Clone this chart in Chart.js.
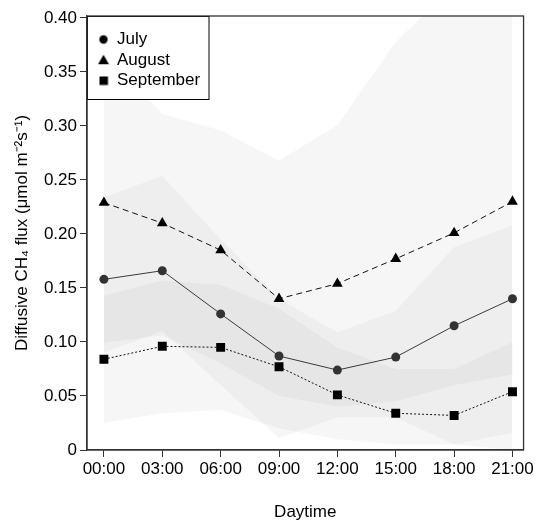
<!DOCTYPE html>
<html><head><meta charset="utf-8">
<script src="https://cdn.jsdelivr.net/npm/chart.js@4.4.1/dist/chart.umd.min.js"></script>
<style>html,body{margin:0;padding:0;background:#fff}#wrap{width:536px;height:520px}</style>
</head><body><div id="wrap"><canvas id="c" width="536" height="520"></canvas></div>
<script>
const hours = ['00:00','03:00','06:00','09:00','12:00','15:00','18:00','21:00'];
const yTickValues = [0,0.05,0.10,0.15,0.20,0.25,0.30,0.35,0.40];

const julyMean = [0.158,0.166,0.126,0.087,0.074,0.086,0.115,0.140];
const augustMean = [0.229,0.210,0.185,0.140,0.154,0.177,0.201,0.230];
const septemberMean = [0.084,0.096,0.095,0.077,0.051,0.034,0.032,0.054];

const julyUpper = [0.234,0.254,0.195,0.140,0.109,0.129,0.188,0.208];
const julyLower = [0.099,0.106,0.080,0.050,0.040,0.045,0.060,0.070];
const augustUpper = [0.370,0.311,0.296,0.268,0.301,0.378,0.430,0.460];
const augustLower = [0.090,0.110,0.060,0.011,0.030,0.030,0.005,0.000];
const septemberUpper = [0.143,0.157,0.153,0.131,0.095,0.075,0.075,0.100];
const septemberLower = [0.025,0.034,0.037,0.020,0.010,0.005,0.005,0.016];

const pts = arr => arr.map((v,i)=>({x:i,y:v}));
const BAND = 'rgba(0,0,0,0.035)';
const FONT = "'Liberation Sans', Arial, sans-serif";

function bandPair(lower, upper, lowerIndex){
  return [
    {type:'line', data:pts(lower), borderWidth:0, pointRadius:0, fill:false, order:2, isBand:true},
    {type:'line', data:pts(upper), borderWidth:0, pointRadius:0, fill:lowerIndex, backgroundColor:BAND, order:2, isBand:true}
  ];
}

function legendIcon(style){
  const c = document.createElement('canvas');
  c.width = 12; c.height = 12;
  const g = c.getContext('2d');
  g.fillStyle = '#000';
  g.beginPath();
  if (style === 'circle') { g.arc(6, 6, 4.2, 0, Math.PI*2); }
  else if (style === 'triangle') { g.moveTo(6, 0.8); g.lineTo(11.4, 10.2); g.lineTo(0.6, 10.2); g.closePath(); }
  else { g.rect(2, 2, 8.5, 8.5); }
  g.fill();
  return c;
}

const datasets = [
  ...bandPair(augustLower, augustUpper, 0),
  ...bandPair(julyLower, julyUpper, 2),
  ...bandPair(septemberLower, septemberUpper, 4),
  {label:'July', data:pts(julyMean), borderColor:'#3a3a3a', borderWidth:1, backgroundColor:'#333',
   pointStyle:'circle', pointRadius:4.5, pointBorderWidth:0, pointBackgroundColor:'#333', fill:false, order:0},
  {label:'August', data:pts(augustMean), borderColor:'#111', borderWidth:1, borderDash:[6,4], backgroundColor:'#000',
   pointStyle:'triangle', pointRadius:6.2, pointBorderWidth:0, pointBackgroundColor:'#000', fill:false, order:0},
  {label:'September', data:pts(septemberMean), borderColor:'#111', borderWidth:1, borderDash:[2,2], backgroundColor:'#000',
   pointStyle:'rect', pointRadius:6.3, pointBorderWidth:0, pointBackgroundColor:'#000', fill:false, order:0}
];

const frame = {
  id:'frame',
  beforeUpdate(chart){
    const L = chart.legend;
    if (L) {
      L._layers = function(){
        return [{z:10, draw(ca){ L.left = ca.left + 8; L.top = ca.top + 11.5; L.draw(ca); }}];
      };
    }
  },
  afterDatasetsDraw(chart){
    const {ctx, chartArea:ca} = chart;
    ctx.save();
    ctx.fillStyle = '#fff';
    ctx.fillRect(ca.left, ca.top, 122, 83);
    ctx.strokeStyle = '#000';
    ctx.lineWidth = 1;
    ctx.strokeRect(ca.left + 0.5, ca.top + 0.5, 121.5, 83);
    ctx.strokeStyle = '#333';
    ctx.lineWidth = 1.3;
    ctx.strokeRect(ca.left, ca.top, ca.right - ca.left, ca.bottom - ca.top);
    ctx.restore();
  }
};

new Chart(document.getElementById('c'), {
  type:'line',
  data:{datasets},
  plugins:[frame],
  options:{
    responsive:false, animation:false, devicePixelRatio:1,
    layout:{padding:{left:0, top:16, right:10, bottom:0}},
    plugins:{
      legend:{
        position:'chartArea', align:'start',
        labels:{
          usePointStyle:true, boxWidth:10, boxHeight:8, padding:3.5, color:'#000',
          font:{family:FONT, size:17},
          generateLabels(chart){
            return chart.data.datasets.map((d,i)=>({d,i})).filter(o=>!o.d.isBand).map(o=>({
              text:o.d.label, pointStyle:legendIcon(o.d.pointStyle), fillStyle:'#000', strokeStyle:'#000',
              lineWidth:0, hidden:false, datasetIndex:o.i, fontColor:'#000'
            }));
          }
        }
      },
      tooltip:{enabled:false}, filler:{propagate:false}
    },
    scales:{
      x:{
        type:'linear', min:-0.29, max:7.19,
        afterBuildTicks(s){ s.ticks = hours.map((h,i)=>({value:i})); },
        afterFit(s){ s.height = 70; },
        ticks:{callback:(v)=>hours[v], color:'#000', font:{family:FONT, size:17}, padding:2, maxRotation:0, autoSkip:false},
        grid:{display:true, drawOnChartArea:false, tickLength:7, color:'#333', tickColor:'#333'},
        border:{display:true, color:'#333', width:1.3},
        title:{display:true, text:'Daytime', color:'#000', font:{family:FONT, size:17}, padding:{top:0,bottom:-3}}
      },
      y:{
        type:'linear', min:0, max:0.4018,
        afterBuildTicks(s){ s.ticks = yTickValues.map(v=>({value:v})); },
        afterFit(s){ s.width = 87; },
        ticks:{callback:(v)=> v===0 ? '0' : v.toFixed(2), color:'#000', font:{family:FONT, size:17}, padding:3},
        grid:{display:true, drawOnChartArea:false, tickLength:7, color:'#333', tickColor:'#333'},
        border:{display:true, color:'#333', width:1.3},
        title:{display:true, text:'Diffusive CH\u2084 flux (\u03bcmol m\u207b\u00b2s\u207b\u00b9)', color:'#000', font:{family:FONT, size:17}, padding:{top:12,bottom:0}}
      }
    }
  }
});
</script></body></html>
